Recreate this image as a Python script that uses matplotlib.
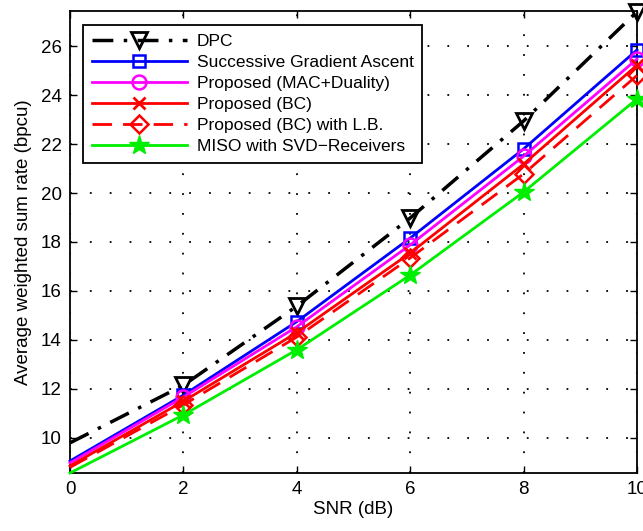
import matplotlib
matplotlib.use("Agg")
import matplotlib.pyplot as plt

plt.rcParams['font.family'] = ['Liberation Sans', 'DejaVu Sans']

snr = [0, 2, 4, 6, 8, 10]
dpc = [9.8, 12.15, 15.38, 18.98, 22.94, 27.4]
sga = [9.06, 11.75, 14.75, 18.16, 21.8, 25.84]
mac = [8.98, 11.67, 14.54, 17.88, 21.5, 25.47]
bc = [8.86, 11.5, 14.3, 17.55, 21.18, 25.22]
bc_lb = [8.8, 11.35, 14.12, 17.35, 20.78, 24.8]
miso = [8.57, 10.94, 13.6, 16.65, 20.04, 23.84]

labels = ["DPC", "Successive Gradient Ascent", "Proposed (MAC+Duality)",
          "Proposed (BC)", "Proposed (BC) with L.B.", "MISO with SVD\u2212Receivers"]
xticks = [0, 2, 4, 6, 8, 10]
yticks = [10, 12, 14, 16, 18, 20, 22, 24, 26]

fig = plt.figure(figsize=(6.43, 5.31), dpi=100)
ax = fig.add_axes([70/643, 58/531, 567/643, 462/531])

mk = [1, 2, 3, 4, 5]
lw = 2.0
ax.plot(snr, dpc, color='black', linestyle=(0, (6, 3, 1, 3)), linewidth=2.5, marker='v', markersize=12,
        markerfacecolor='none', markeredgewidth=2, label=labels[0], clip_on=False, zorder=5, markevery=mk)
ax.plot(snr, sga, color='blue', linestyle='-', linewidth=lw, marker='s', markersize=9,
        markerfacecolor='none', markeredgewidth=1.8, label=labels[1], clip_on=False, zorder=5, markevery=mk)
ax.plot(snr, mac, color='magenta', linestyle='-', linewidth=lw, marker='o', markersize=10,
        markerfacecolor='none', markeredgewidth=1.8, label=labels[2], clip_on=False, zorder=5, markevery=mk)
ax.plot(snr, bc, color='red', linestyle='-', linewidth=lw, marker='x', markersize=9,
        markeredgewidth=2, label=labels[3], clip_on=False, zorder=5, markevery=mk)
ax.plot(snr, bc_lb, color='red', linestyle=(0, (7, 4)), linewidth=lw, marker='D', markersize=9,
        markerfacecolor='none', markeredgewidth=1.8, label=labels[4], clip_on=False, zorder=5, markevery=mk)
ax.plot(snr, miso, color='#00ee00', linestyle='-', linewidth=lw, marker='*', markersize=15,
        markerfacecolor='#00ee00', markeredgewidth=1, label=labels[5], clip_on=False, zorder=5, markevery=mk)

ax.set_xlim(0, 10)
ax.set_ylim(8.57, 27.43)
ax.set_xticks(xticks)
ax.set_yticks(yticks)
ax.tick_params(direction='in', top=True, right=True, labelsize=13.5, length=5, width=1, pad=6)
ax.grid(True, color='black', linestyle=(0, (1, 10)), linewidth=1.3)
for s in ax.spines.values():
    s.set_linewidth(1.3)

ax.set_xlabel("SNR (dB)", fontsize=13.5, labelpad=2)
ax.set_ylabel("Average weighted sum rate (bpcu)", fontsize=13.5, labelpad=6)

leg = ax.legend(loc='upper left', bbox_to_anchor=(13/567, 1 - 14/462), fontsize=12.5,
                handlelength=5.5, handletextpad=0.55, labelspacing=0.34, borderpad=0.5,
                borderaxespad=0, frameon=True, fancybox=False, edgecolor='black', framealpha=1)
leg.get_frame().set_linewidth(1.3)

fig.savefig("out.png", dpi=100)
